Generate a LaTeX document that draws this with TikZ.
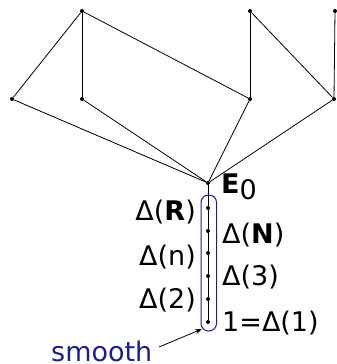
\documentclass[tikz,border=0pt]{standalone}
\usepackage{fontspec}
\setmainfont{DejaVu Sans}
\usetikzlibrary{arrows.meta}
\definecolor{navyc}{RGB}{30,30,140}
\begin{document}
\begin{tikzpicture}[x=1pt,y=-1pt,
  dot/.style={circle,fill=black,inner sep=0pt,minimum size=4pt},
  edge/.style={draw=black,line width=0.8pt},
  lab/.style={inner sep=0pt,font=\fontsize{27}{31}\selectfont}]
\useasboundingbox (0,0) rectangle (337,364);
% top
\node[dot] (t1) at (82,11) {};
\node[dot] (t2) at (250,11) {};
\node[dot] (t3) at (335,11) {};
% middle
\node[dot] (m1) at (12,99) {};
\node[dot] (m2) at (82,99) {};
\node[dot] (m3) at (250,99) {};
\node[dot] (m4) at (334,99) {};
% E0 and chain
\node[dot] (e) at (208,183) {};
\node[dot] (c1) at (208,208) {};
\node[dot] (c2) at (208,231) {};
\node[dot] (c3) at (208,253) {};
\node[dot] (c4) at (208,276) {};
\node[dot] (c5) at (208,299) {};
\node[dot] (c6) at (208,322) {};
\draw[edge] (t1) -- (m1);
\draw[edge] (t1) -- (m2);
\draw[edge] (t1) -- (m3);
\draw[edge] (t2) -- (m3);
\draw[edge] (t2) -- (m4);
\draw[edge] (t3) -- (m4);
\draw[edge] (m1) -- (e);
\draw[edge] (m2) -- (e);
\draw[edge] (m3) -- (e);
\draw[edge] (m4) -- (e);
\draw[edge] (e) -- (c1) -- (c2) -- (c3) -- (c4) -- (c5) -- (c6);
% smooth box
\draw[navyc,line width=1pt,rounded corners=7.5pt] (201,195) rectangle (216.5,331);
% labels
\node[lab,anchor=west] (le) at (221,187) {\textbf{E}\raisebox{-6pt}{0}};
\node[lab,anchor=east] (l1) at (196,212) {Δ(\textbf{R})};
\node[lab,anchor=west] (l2) at (222,235) {Δ(\textbf{N})};
\node[lab,anchor=east] (l3) at (196,257) {Δ(n)};
\node[lab,anchor=west] (l4) at (222,277) {Δ(3)};
\node[lab,anchor=east] (l5) at (196,300) {Δ(2)};
\node[lab,anchor=west] (l6) at (222,323) {1=Δ(1)};
\node[lab,anchor=base west,text=navyc] (sm) at (51,361) {smooth};
\coordinate (arrend) at (202,329);
\draw[edge,-{Stealth[length=7pt,width=5pt]}] (159,347) -- (arrend);
\end{tikzpicture}
\end{document}
